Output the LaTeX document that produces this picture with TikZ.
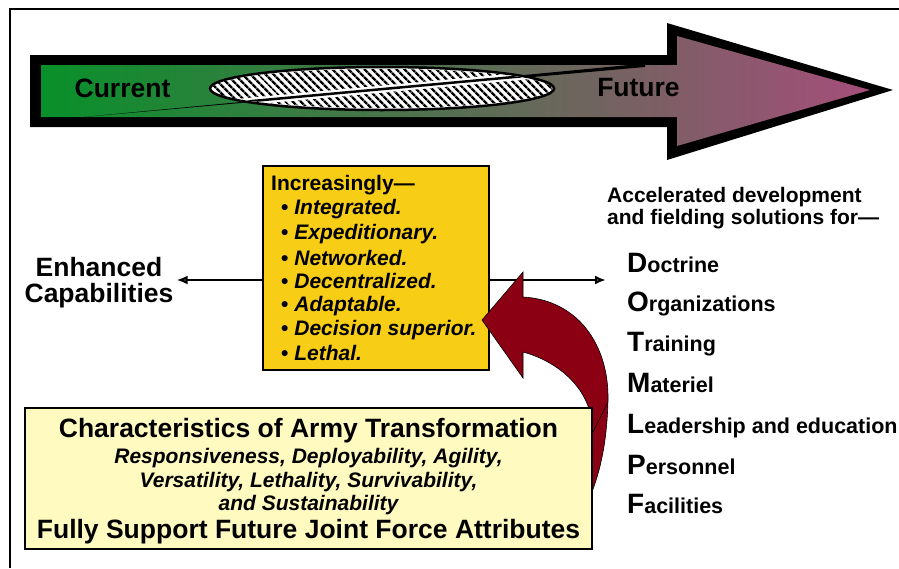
\documentclass[tikz,border=0pt]{standalone}
\usepackage{fontspec}
\setmainfont{Liberation Sans}
\usetikzlibrary{arrows.meta,patterns.meta,positioning}

\definecolor{gold}{RGB}{247,205,22}
\definecolor{paleyel}{RGB}{255,250,192}
\definecolor{maroon}{RGB}{140,0,20}
\definecolor{curgreen}{RGB}{8,144,42}
\definecolor{midgrey}{RGB}{128,130,128}
\definecolor{futpurple}{RGB}{165,78,122}

\newcommand{\bigini}[1]{{\fontsize{28}{28}\selectfont #1}}

\tikzset{
	txt/.style={font=\bfseries\fontsize{21}{24}\selectfont, inner sep=0pt, anchor=base west},
	itl/.style={font=\bfseries\itshape\fontsize{21}{24}\selectfont, inner sep=0pt, anchor=base},
	big/.style={font=\bfseries\fontsize{26.5}{26}\selectfont, inner sep=0pt},
	dotrow/.style={font=\bfseries\fontsize{21.5}{24}\selectfont, inner sep=0pt, anchor=base west},
	arr/.style={line width=2.8pt, -{Latex[open,length=11pt,width=9pt]}},
	boxed/.style={draw, line width=1.2pt, inner sep=0pt},
}

\begin{document}
\begin{tikzpicture}[x=1pt,y=-1pt]
	\useasboundingbox (0,0) rectangle (899,568);
	\fill[white] (0,0) rectangle (899,568);

	% frame
	\draw[line width=1.8pt] (10,568) -- (10,9) -- (899,9);

	% big arrow: current -> future
	\fill[black] (30,55) -- (667,55) -- (667,23) -- (893,90) -- (667,160) -- (667,127) -- (30,127) -- cycle;
	\shade[left color=curgreen, middle color=midgrey, right color=futpurple] (41,65) -- (677,65) -- (677,36) -- (870,90) -- (677,146) -- (677,117) -- (41,117) -- cycle;
	\fill (78,117.5) -- (645,63.5) -- (645,67) -- cycle;
	\draw[line width=2.5pt, fill=white] (382,88.5) ellipse (172 and 21.5);
	\fill[pattern={Lines[angle=-45, distance=5.4pt, line width=2.5pt]}] (382,88.5) ellipse (170 and 19.5);
	\begin{scope}
		\clip (382,88.5) ellipse (170 and 19.5);
		\draw[white, line width=7pt] (78,117) -- (645,65);
		\draw[line width=2.5pt] (78,117) -- (645,65);
	\end{scope}
	\node[big] (cur) at (122.5,88) {Current};
	\node[big] (fut) at (638.5,88) {Future};

	% increasingly box
	\node[boxed, fill=gold, minimum width=226pt, minimum height=204pt] (incr) at (376,268) {};
	\node[txt] (incr0) at (271,190) {Increasingly—};
	\node[txt] (incr1) at (281,214) {\textbullet\ \textit{Integrated.}};
	\node[txt] (incr2) at (281,239) {\textbullet\ \textit{Expeditionary.}};
	\node[txt] (incr3) at (281,265) {\textbullet\ \textit{Networked.}};
	\node[txt] (incr4) at (281,288) {\textbullet\ \textit{Decentralized.}};
	\node[txt] (incr5) at (281,311) {\textbullet\ \textit{Adaptable.}};
	\node[txt] (incr6) at (281,335) {\textbullet\ \textit{Decision superior.}};
	\node[txt] (incr7) at (281,360) {\textbullet\ \textit{Lethal.}};

	\node[big, align=center] (enh) at (99,283) {Enhanced\\Capabilities};

	% DOTMLPF
	\node[txt] (acc1) at (607,202) {Accelerated development};
	\node[txt] (acc2) at (607,224) {and fielding solutions for—};
	\node[dotrow] (doc) at (627,272) {\bigini{D}octrine};
	\node[dotrow] (org) at (627,311) {\bigini{O}rganizations};
	\node[dotrow] (trn) at (627,351) {\bigini{T}raining};
	\node[dotrow] (mat) at (627,392) {\bigini{M}ateriel};
	\node[dotrow] (lde) at (627,433) {\bigini{L}eadership and education};
	\node[dotrow] (per) at (627,474) {\bigini{P}ersonnel};
	\node[dotrow] (fac) at (627,513) {\bigini{F}acilities};

	\coordinate (dotend) at (606,280);
	\draw[arr, shorten >=3pt] (incr.west |- dotend) -- (enh.east |- dotend);
	\draw[arr] (incr.east |- dotend) -- (dotend);

	% curved arrow up into the box
	\draw[fill=maroon, line width=0.6pt] (482,320) -- (523,272) -- (523,297) .. controls (578,300) and (609,345) .. (608,400) .. controls (607,440) and (601,470) .. (590,497) -- (580,497) .. controls (590,470) and (593,450) .. (592,425) .. controls (590,390) and (560,362) .. (523,352) -- (523,378) -- cycle;
	\draw[line width=0.6pt] (593,432) -- (608,402);

	% characteristics box
	\node[boxed, fill=paleyel, minimum width=567pt, minimum height=141pt] (char) at (308.5,478.5) {};
	\node[big, anchor=base] (char1) at (308.5,437) {Characteristics of Army Transformation};
	\node[itl] (char2) at (308.5,463) {Responsiveness, Deployability, Agility,};
	\node[itl] (char3) at (308.5,487) {Versatility, Lethality, Survivability,};
	\node[itl] (char4) at (308.5,510) {and Sustainability};
	\node[big, anchor=base] (char5) at (308.5,538) {Fully Support Future Joint Force Attributes};
\end{tikzpicture}
\end{document}
